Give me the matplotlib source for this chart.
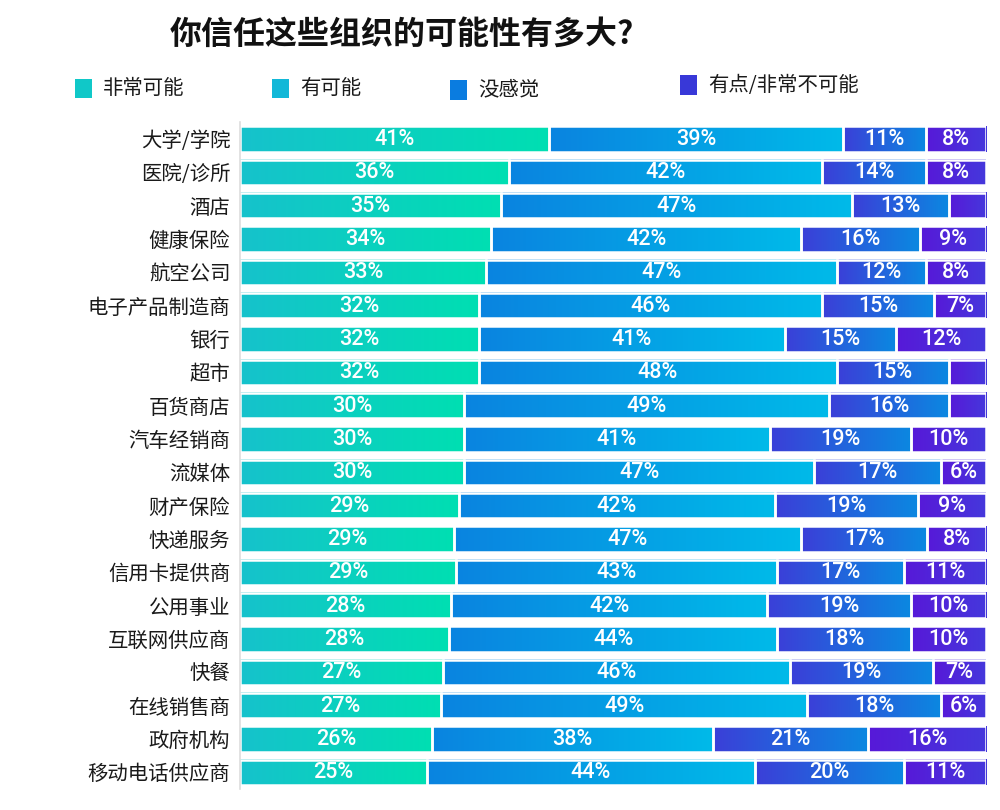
import matplotlib
matplotlib.use('Agg')
import matplotlib.pyplot as plt
import numpy as np
from matplotlib.colors import LinearSegmentedColormap
from matplotlib.patches import Rectangle

plt.rcParams['font.family'] = ['Noto Sans CJK SC', 'DejaVu Sans']

title = '你信任这些组织的可能性有多大?'
series_names = ['非常可能', '有可能', '没感觉', '有点/非常不可能']
categories = ['大学/学院', '医院/诊所', '酒店', '健康保险', '航空公司', '电子产品制造商',
              '银行', '超市', '百货商店', '汽车经销商', '流媒体', '财产保险', '快递服务',
              '信用卡提供商', '公用事业', '互联网供应商', '快餐', '在线销售商', '政府机构',
              '移动电话供应商']
very_likely = [41, 36, 35, 34, 33, 32, 32, 32, 30, 30, 30, 29, 29, 29, 28, 28, 27, 27, 26, 25]
likely = [39, 42, 47, 42, 47, 46, 41, 48, 49, 41, 47, 42, 47, 43, 42, 44, 46, 49, 38, 44]
neutral = [11, 14, 13, 16, 12, 15, 15, 15, 16, 19, 17, 19, 17, 17, 19, 18, 19, 18, 21, 20]
unlikely = [8, 8, 5, 9, 8, 7, 12, 5, 5, 10, 6, 9, 8, 11, 10, 10, 7, 6, 16, 11]

# gradient (left colour, right colour) for each segment
grads = [('#16c2cc', '#00dfb2'),
         ('#0a84e0', '#00bae9'),
         ('#3b3fd8', '#0b88e1'),
         ('#5719d8', '#4538dc')]
legend_cols = ['#10c8c8', '#12b8d8', '#0a7ce0', '#3838d8']

fig = plt.figure(figsize=(10, 8.1), dpi=100)
ax = fig.add_axes([0.24, 0.026, 0.746, 0.823])

series = [np.array(s, dtype=float) for s in [very_likely, likely, neutral, unlikely]]
totals = sum(series)
n = len(categories)
ypos = np.arange(n)
h = 0.76
grad = np.linspace(0, 1, 256).reshape(1, -1)
left = np.zeros(n)
for k, vals in enumerate(series):
    cmap = LinearSegmentedColormap.from_list('g%d' % k, list(grads[k]))
    widths = vals / totals * 100  # each bar fills 100%
    for i in range(n):
        ax.imshow(grad, cmap=cmap, aspect='auto', interpolation='bicubic',
                  extent=(left[i], left[i] + widths[i], ypos[i] + h / 2, ypos[i] - h / 2),
                  zorder=1)
    ax.barh(ypos, widths, left=left, height=h, facecolor='none',
            edgecolor='white', linewidth=1.8, zorder=2)
    for i in range(n):
        if vals[i] < 6:
            continue
        ax.text(left[i] + widths[i] / 2, ypos[i] + 0.02, '%d%%' % vals[i], ha='center',
                va='center', color='white', fontsize=15.5, family='Roboto',
                fontweight='medium', zorder=3)
    left += widths

ax.set_xlim(0, 100)
ax.set_ylim(n - 0.5, -0.5)
ax.set_yticks(ypos)
ax.set_yticklabels(categories, fontsize=14.7, color='#1a1a1a')
ax.tick_params(axis='y', length=0, pad=7)
ax.set_xticks([])
for s in ['top', 'right', 'bottom']:
    ax.spines[s].set_visible(False)
ax.spines['left'].set_color('#dddddd')
ax.spines['left'].set_linewidth(1.2)

fig.text(0.402, 0.957, title, ha='center', va='center', fontsize=23, fontweight='bold',
         color='#111111')

leg_x = [0.075, 0.272, 0.450, 0.680]
leg_y = [0.891, 0.891, 0.889, 0.895]
for k in range(4):
    fig.patches.append(Rectangle((leg_x[k], leg_y[k] - 0.012), 0.017, 0.024,
                                 transform=fig.transFigure, facecolor=legend_cols[k],
                                 edgecolor='none'))
    fig.text(leg_x[k] + 0.028, leg_y[k], series_names[k], ha='left', va='center',
             fontsize=14.7, color='#1a1a1a')

fig.savefig('out.png', dpi=100)
